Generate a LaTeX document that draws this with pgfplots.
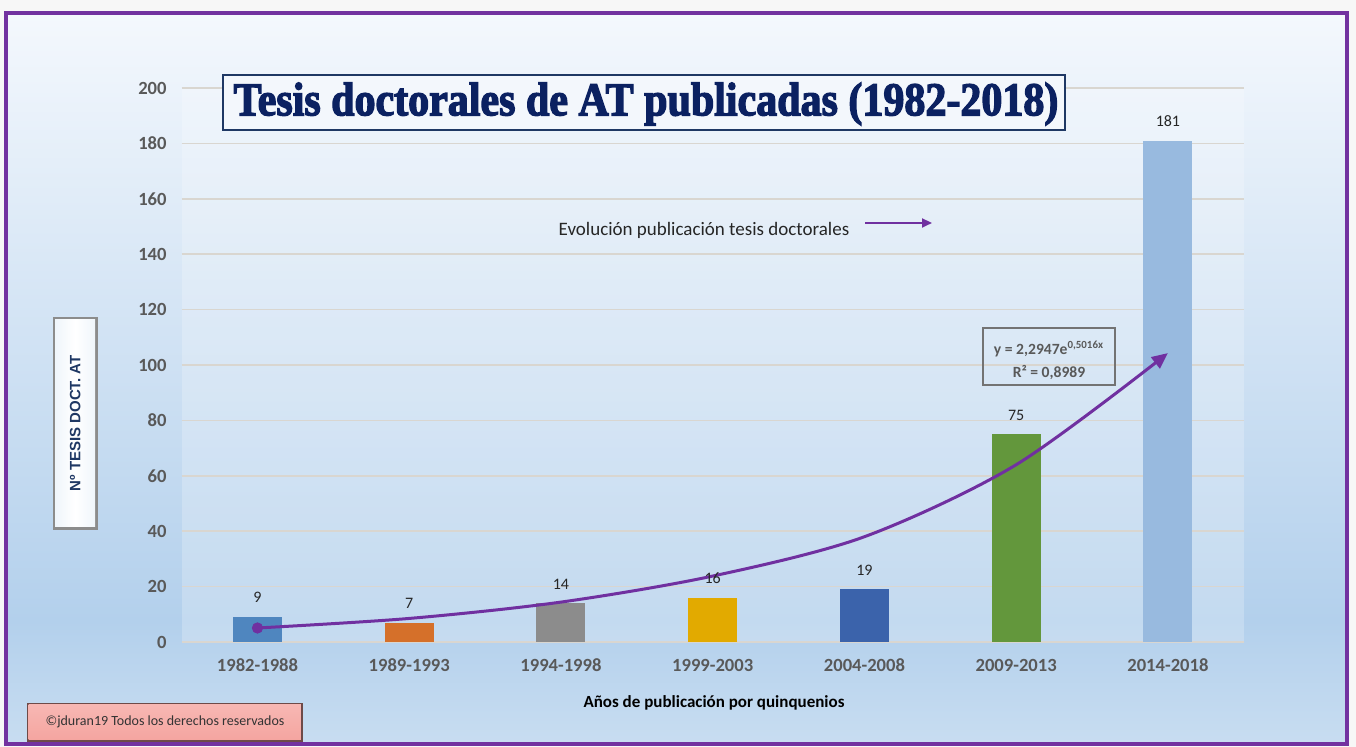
\documentclass[border=0pt]{standalone}
\usepackage{fontspec}
\setmainfont{Carlito}
\newfontfamily\arialfont{Liberation Sans}
\newfontfamily\titlefont{Liberation Serif}[BoldFeatures={FakeBold=3}]
\usepackage{pgfplots}
\pgfplotsset{compat=1.18}
\usetikzlibrary{arrows.meta}
\definecolor{bgtop}{HTML}{F4F8FD}
\definecolor{bgmid}{HTML}{B3D0EC}
\definecolor{bgbot}{HTML}{C8DDF1}
\definecolor{frame}{HTML}{7232A0}
\definecolor{trend}{HTML}{7030A0}
\definecolor{gridc}{HTML}{D9D6D0}
\definecolor{tickc}{HTML}{595959}
\definecolor{navy}{HTML}{0B2161}
\definecolor{titleframe}{HTML}{1F3864}
\definecolor{titlefill}{HTML}{F3F7FC}
\definecolor{ylabc}{HTML}{1F3864}
\definecolor{c1}{HTML}{4F86BF}
\definecolor{c2}{HTML}{D5702A}
\definecolor{c3}{HTML}{8C8C8C}
\definecolor{c4}{HTML}{E2AA00}
\definecolor{c5}{HTML}{3B63AB}
\definecolor{c6}{HTML}{63973C}
\definecolor{c7}{HTML}{98BADF}
\definecolor{pinkbox}{HTML}{F5A5A0}
\begin{document}
\begin{tikzpicture}
\useasboundingbox (0,0) rectangle (678pt,373.5pt);
\fill[white!97!black] (0,0) rectangle (678pt,373.5pt);
% background gradient
\shade[top color=bgtop, bottom color=bgmid] (3pt,63pt) rectangle (673.5pt,367pt);
\shade[top color=bgmid, bottom color=bgbot] (3pt,1.5pt) rectangle (673.5pt,63.2pt);
% plot area lighter overlay
\fill[white, opacity=0.22] (90.8pt,52.5pt) rectangle (621.9pt,329.5pt);
% frame
\draw[frame, line width=2pt] (3pt,1.5pt) rectangle (673.5pt,367pt);

\begin{axis}[
  at={(90.8pt,52.5pt)}, anchor=south west,
  scale only axis, width=531.1pt, height=277pt,
  xmin=-0.5, xmax=6.5, ymin=0, ymax=200,
  ytick={0,20,...,200},
  xtick={0,1,2,3,4,5,6},
  xticklabels={1982-1988,1989-1993,1994-1998,1999-2003,2004-2008,2009-2013,2014-2018},
  ymajorgrids, grid style={gridc, line width=0.75pt},
  axis line style={draw=none}, tick style={draw=none},
  /pgf/number format/assume math mode=true,
  ticklabel style={font=\bfseries\fontsize{9.3}{10}\selectfont, text=tickc},
  xticklabel style={yshift=-5pt},
  yticklabel style={xshift=-4pt},
  clip=false,
  mybar/.style={ybar, bar width=24.5pt, bar shift=0pt, draw=none, fill=#1,
    nodes near coords,
    nodes near coords style={font=\fontsize{8}{9}\selectfont, text=black!85, yshift=3.5pt}},
]
\addplot[mybar=c1] coordinates {(0,9)};
\addplot[mybar=c2] coordinates {(1,7)};
\addplot[mybar=c3] coordinates {(2,14)};
\addplot[mybar=c4] coordinates {(3,16)};
\addplot[mybar=c5] coordinates {(4,19)};
\addplot[mybar=c6] coordinates {(5,75)};
\addplot[mybar=c7] coordinates {(6,181)};
% trend line
\addplot[trend, line width=1.5pt, smooth, -{Triangle[length=8pt,width=7pt]}]
  coordinates {(0,5.05) (1,8.5) (2,14.4) (3,23.8) (4,38) (5,64) (6,104.3)};
\addplot[trend, only marks, mark=*, mark size=2.6pt] coordinates {(0,5.05)};
\end{axis}

% title
\node[draw=titleframe, line width=0.9pt, fill=titlefill, minimum width=421pt, minimum height=27.5pt, inner sep=0pt]
  at (322pt,322.25pt) {};
\node[text=navy, inner sep=0pt] at (323pt,321.5pt)
  {\scalebox{1.0}[1.12]{\titlefont\bfseries\fontsize{21}{21}\selectfont Tesis doctorales de AT publicadas (1982-2018)}};

% legend for trendline
\node[text=black!85, font=\fontsize{9.5}{10}\selectfont] at (352pt,258.5pt) {Evolución publicación tesis doctorales};
\draw[trend, line width=1pt, -{Triangle[length=5pt,width=4.5pt]}] (432.5pt,262pt) -- (466pt,262pt);

% trend equation box
\draw[black!55, line width=0.8pt] (491.5pt,181pt) rectangle (557.5pt,209.5pt);
\node[text=tickc, font=\bfseries\fontsize{7.8}{8}\selectfont] at (524.5pt,199pt) {y = 2,2947e\textsuperscript{0,5016x}};
\node[text=tickc, font=\bfseries\fontsize{7.8}{8}\selectfont] at (524.5pt,187pt) {R² = 0,8989};

% x axis title
\node[text=black, font=\bfseries\fontsize{8.5}{9}\selectfont] at (357pt,22pt) {Años de publicación por quinquenios};

% y label button
\fill[black!45] (26.35pt,108.5pt) rectangle (49.15pt,215.15pt);
\shade[left color=white!80!bgmid, right color=white!80!bgmid, middle color=white]
  (27.6pt,110.2pt) rectangle (47.6pt,213.9pt);
\node[rotate=90, text=ylabc, font=\arialfont\bfseries\fontsize{7.5}{8}\selectfont] at (37.6pt,161.8pt) {Nº TESIS DOCT. AT};

% copyright button
\fill[black!55!pinkbox] (13.5pt,2.6pt) rectangle (151.5pt,22pt);
\shade[top color=pinkbox!80!white, bottom color=pinkbox] (14.3pt,3.6pt) rectangle (150.4pt,21.2pt);
\node[text=black!80, font=\fontsize{7}{8}\selectfont] at (82.5pt,12.4pt) {©jduran19 Todos los derechos reservados};
\end{tikzpicture}
\end{document}
